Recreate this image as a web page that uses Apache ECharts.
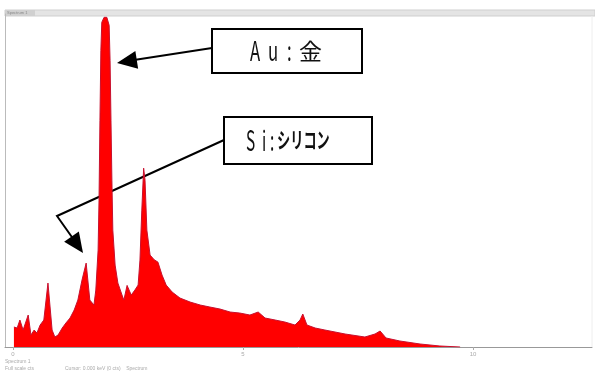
<!DOCTYPE html>
<html>
<head>
<meta charset="utf-8">
<script src="https://cdn.jsdelivr.net/npm/echarts@6/dist/echarts.min.js"></script>
<style>
  html, body { margin: 0; padding: 0; background: #fff; }
  #chart { width: 595px; height: 374px; }
</style>
</head>
<body>
<div id="chart"></div>
<script>
// EDS spectrum, energy in keV, counts scaled to 0..1000
const energy = [
  0.02, 0.09, 0.15, 0.22, 0.33, 0.39, 0.46, 0.52, 0.59, 0.67,
  0.76, 0.85, 0.91, 0.98, 1.07, 1.15, 1.24, 1.33, 1.41, 1.50,
  1.59, 1.67, 1.76, 1.80, 1.85, 1.87, 1.89, 1.91, 1.93, 1.98,
  2.04, 2.09, 2.11, 2.13, 2.15, 2.17, 2.22, 2.28, 2.37, 2.41,
  2.48, 2.57, 2.65, 2.72, 2.76, 2.80, 2.84, 2.87, 2.91, 2.98,
  3.07, 3.15, 3.24, 3.33, 3.46, 3.63, 3.85, 4.07, 4.28, 4.50,
  4.72, 4.93, 5.15, 5.33, 5.48, 5.70, 5.91, 6.13, 6.24, 6.30,
  6.39, 6.57, 6.78, 7.00, 7.22, 7.65, 7.87, 7.98, 8.11, 8.41,
  8.85, 9.28, 9.72
];
const counts = [
  60, 57, 81, 51, 96, 36, 51, 42, 66, 81,
  192, 51, 30, 36, 57, 72, 87, 111, 141, 201,
  252, 141, 126, 171, 291, 441, 681, 891, 975, 990,
  990, 966, 861, 681, 501, 351, 246, 192, 156, 141,
  185, 156, 171, 186, 261, 411, 537, 501, 351, 276,
  262, 255, 216, 186, 165, 147, 135, 126, 120, 114,
  105, 102, 96, 105, 87, 81, 75, 66, 81, 99,
  66, 57, 51, 45, 39, 30, 39, 48, 27, 18,
  9, 3, 0
];
const tickValues = [0, 5, 10];

function arrowHead(tx, ty, fx, fy, len, half) {
  const dx = tx - fx, dy = ty - fy;
  const d = Math.sqrt(dx * dx + dy * dy);
  const ux = dx / d, uy = dy / d;
  const bx = tx - ux * len, by = ty - uy * len;
  return {
    type: 'polygon',
    shape: { points: [[tx, ty], [bx - uy * half, by + ux * half], [bx + uy * half, by - ux * half]] },
    style: { fill: '#000' }
  };
}

function ch(x, y, text, size, sx, weight) {
  return {
    type: 'text', x: x, y: y, scaleX: sx,
    style: { text: text, x: 0, y: 0, fontSize: size, fontFamily: 'Noto Sans CJK JP',
      fontWeight: weight || 'normal',
      fill: '#111', textAlign: 'left', textVerticalAlign: 'middle' }
  };
}

const chart = echarts.init(document.getElementById('chart'));
chart.setOption({
  animation: false,
  grid: { left: 5, right: 3, top: 14, bottom: 27 },
  xAxis: {
    type: 'value', min: -0.174, max: 12.587,
    axisLine: { show: true, lineStyle: { color: '#999', width: 1 } },
    axisTick: { show: true, customValues: tickValues, length: 3, lineStyle: { color: '#aaa' } },
    axisLabel: { customValues: tickValues, fontSize: 6, color: '#aaa', margin: 4 },
    splitLine: { show: false }
  },
  yAxis: {
    type: 'value', min: 0, max: 1000,
    axisLine: { show: true, onZero: false, lineStyle: { color: '#bbb' } },
    axisTick: { show: false },
    axisLabel: { show: false },
    splitLine: { show: false }
  },
  series: [{
    type: 'line',
    data: energy.map((e, i) => [e, counts[i]]),
    symbol: 'none',
    lineStyle: { color: '#c8102e', width: 1 },
    areaStyle: { color: '#ff0000', opacity: 1 }
  }],
  graphic: [
    { type: 'rect', shape: { x: 5, y: 10, width: 590, height: 6 }, style: { fill: '#e4e4e4', stroke: '#cfcfcf', lineWidth: 1 } },
    { type: 'rect', shape: { x: 5, y: 10, width: 30, height: 6 }, style: { fill: '#d0d0d0' } },
    { type: 'text', x: 7, y: 13, style: { text: 'Spectrum 1', fontSize: 4, fill: '#888', textVerticalAlign: 'middle' } },
    { type: 'line', shape: { x1: 592, y1: 16, x2: 592, y2: 347 }, style: { stroke: '#eee', lineWidth: 1 } },
    { type: 'text', x: 5, y: 362, style: { text: 'Spectrum 1', fontSize: 5, fill: '#aaa', textVerticalAlign: 'middle' } },
    { type: 'text', x: 5, y: 369, style: { text: 'Full scale cts', fontSize: 5, fill: '#aaa', textVerticalAlign: 'middle' } },
    { type: 'text', x: 65, y: 369, style: { text: 'Cursor: 0.000 keV (0 cts)    Spectrum', fontSize: 5, fill: '#aaa', textVerticalAlign: 'middle' } },

    // Au annotation
    { type: 'rect', shape: { x: 212, y: 29, width: 150, height: 44 }, style: { fill: '#fff', stroke: '#000', lineWidth: 2 } },
    ch(250, 51, 'A', 27, 0.62),
    ch(268, 51, 'u', 27, 0.62),
    ch(287, 51, ':', 27, 0.62),
    ch(299, 51, '金', 23, 1),
    { type: 'line', shape: { x1: 212, y1: 48, x2: 134, y2: 60 }, style: { stroke: '#000', lineWidth: 2 } },
    arrowHead(117, 63, 212, 48, 20, 9),

    // Si annotation
    { type: 'rect', shape: { x: 224, y: 117, width: 148, height: 47 }, style: { fill: '#fff', stroke: '#000', lineWidth: 2 } },
    ch(246, 140, 'S', 28, 0.55),
    ch(262, 140, 'i', 28, 0.55),
    ch(270, 140, ':', 28, 0.55),
    ch(277, 140, 'シリコン', 22, 0.6, 'bold'),
    { type: 'polyline', shape: { points: [[224, 140], [57, 216], [74, 240]] }, style: { stroke: '#000', lineWidth: 2, fill: null } },
    arrowHead(83, 253, 57, 216, 20, 9)
  ]
});
</script>
</body>
</html>
